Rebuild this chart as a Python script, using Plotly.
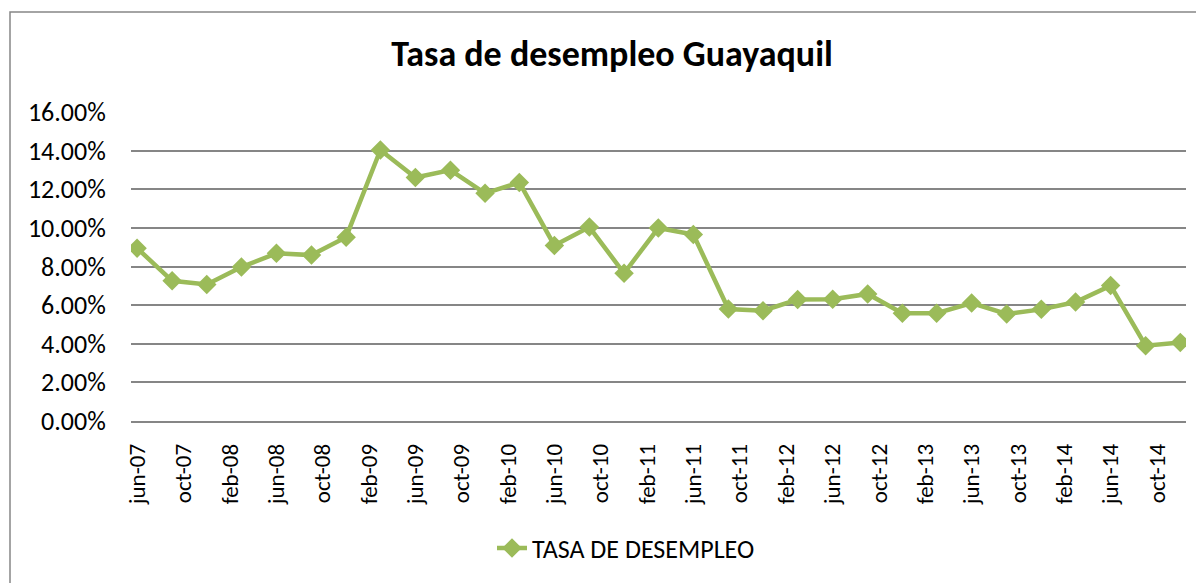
import plotly.graph_objects as go

# quarterly observations, jun-2007 .. dec-2014
fechas = ["2007-06-01", "2007-09-01", "2007-12-01", "2008-03-01", "2008-06-01", "2008-09-01",
          "2008-12-01", "2009-03-01", "2009-06-01", "2009-09-01", "2009-12-01", "2010-03-01",
          "2010-06-01", "2010-09-01", "2010-12-01", "2011-03-01", "2011-06-01", "2011-09-01",
          "2011-12-01", "2012-03-01", "2012-06-01", "2012-09-01", "2012-12-01", "2013-03-01",
          "2013-06-01", "2013-09-01", "2013-12-01", "2014-03-01", "2014-06-01", "2014-09-01",
          "2014-12-01"]
desempleo = [8.95, 7.26, 7.07, 7.97, 8.68, 8.59, 9.52, 14.03, 12.61, 12.99, 11.79, 12.35,
             9.09, 10.04, 7.65, 9.99, 9.66, 5.80, 5.71, 6.29, 6.30, 6.58, 5.58, 5.58,
             6.11, 5.54, 5.78, 6.16, 7.01, 3.90, 4.07]

tick_fechas = ["2007-06-01", "2007-10-01", "2008-02-01", "2008-06-01", "2008-10-01", "2009-02-01",
               "2009-06-01", "2009-10-01", "2010-02-01", "2010-06-01", "2010-10-01", "2011-02-01",
               "2011-06-01", "2011-10-01", "2012-02-01", "2012-06-01", "2012-10-01", "2013-02-01",
               "2013-06-01", "2013-10-01", "2014-02-01", "2014-06-01", "2014-10-01"]
tick_labels = ["jun-07", "oct-07", "feb-08", "jun-08", "oct-08", "feb-09", "jun-09", "oct-09",
               "feb-10", "jun-10", "oct-10", "feb-11", "jun-11", "oct-11", "feb-12", "jun-12",
               "oct-12", "feb-13", "jun-13", "oct-13", "feb-14", "jun-14", "oct-14"]

fuente = "Calibri, Carlito, 'Open Sans', Lato, sans-serif"
verde = "#9BBB59"
gris = "#868686"

# page body has an 8px margin, so the figure is 8px smaller than the window
W, H = 1196, 575
L, R, T, B = 123, 18, 104, 162
pw, ph = W - L - R, H - T - B

fig = go.Figure()
fig.add_trace(go.Scatter(x=fechas, y=desempleo, mode="lines+markers",
                         name="TASA DE DESEMPLEO",
                         line=dict(color=verde, width=4.5),
                         marker=dict(symbol="diamond", size=15, color=verde)))

fig.update_layout(
    width=W, height=H,
    margin=dict(l=L, r=R, t=T, b=B),
    paper_bgcolor="white", plot_bgcolor="white",
    font=dict(family=fuente, size=22, color="black"),
    title=dict(text="<b>Tasa de desempleo Guayaquil</b>", font=dict(size=36, family=fuente),
               x=604 / W, xanchor="center", xref="container",
               y=1 - 45 / H, yanchor="middle", yref="container"),
    showlegend=True,
    legend=dict(orientation="h", x=618 / W, xanchor="center", xref="container",
                y=1 - 540 / H, yanchor="middle", yref="container",
                font=dict(size=26)),
)

fig.update_xaxes(type="date", range=["2007-05-16", "2014-12-16"],
                 tickvals=tick_fechas, ticktext=tick_labels, tickangle=-90,
                 showgrid=False, showline=True, linecolor=gris, linewidth=1.5,
                 ticks="outside", ticklen=12, tickcolor="rgba(0,0,0,0)",
                 tickfont=dict(size=23))
fig.update_yaxes(range=[0, 16], dtick=2, tickformat=".2f", ticksuffix="%",
                 showgrid=True, gridcolor=gris, gridwidth=1.5, zeroline=False,
                 ticks="outside", ticklen=19, tickcolor="rgba(0,0,0,0)",
                 tickfont=dict(size=26))

# outer chart border (Excel chart area)
fig.add_shape(type="rect", xref="paper", yref="paper",
              x0=(2 - L) / pw, x1=(W + 10 - L) / pw,
              y0=-(B + 30) / ph, y1=(ph + T - 4) / ph,
              line=dict(color=gris, width=1.5), fillcolor="rgba(0,0,0,0)", layer="below")

fig.write_html("out.html")
